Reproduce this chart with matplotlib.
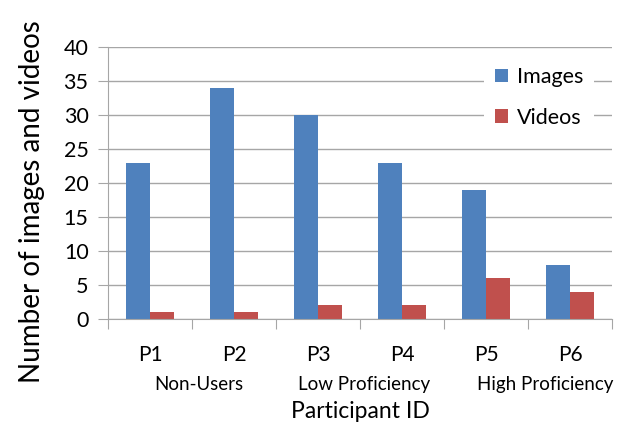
import numpy as np
import matplotlib.pyplot as plt

participants = ["P1", "P2", "P3", "P4", "P5", "P6"]
images = [23, 34, 30, 23, 19, 8]
videos = [1, 1, 2, 2, 6, 4]
groups = ["Non-Users", "Low Proficiency", "High Proficiency"]

plt.rcParams["font.family"] = ["Lato", "DejaVu Sans"]

BLUE = "#4F81BD"
RED = "#C0504D"
GRID = "#A6A6A6"

fig = plt.figure(figsize=(6.23, 4.28), dpi=100)
ax = fig.add_axes([108 / 623, 1 - 319 / 428, 504 / 623, 272 / 428])

x = np.arange(len(participants))
w = 0.286
ax.bar(x - w / 2, images, w, color=BLUE, label="Images", zorder=3)
ax.bar(x + w / 2, videos, w, color=RED, label="Videos", zorder=3)

ax.set_xlim(-0.5, len(participants) - 0.5)
ax.set_ylim(0, 40)
ax.set_yticks(range(0, 41, 5))
ax.yaxis.grid(True, color=GRID, lw=1.0, zorder=0)
ax.tick_params(axis="y", length=7, color=GRID, labelsize=15.5, pad=7)

# category boundaries as ticks on the x axis
ax.set_xticks(np.arange(-0.5, len(participants), 1.0))
ax.set_xticklabels([])
ax.tick_params(axis="x", length=7, color=GRID)
for i, p in enumerate(participants):
    ax.text(i, -5.3, p, ha="center", va="center", fontsize=15)

group_pos = [0.58, 2.55, 4.71]
for gx, g in zip(group_pos, groups):
    ax.text(gx, -9.6, g, ha="center", va="center", fontsize=13.5)

ax.text(2.5, -13.6, "Participant ID", ha="center", va="center", fontsize=16.5)
ax.set_ylabel("Number of images and videos", fontsize=20)
ax.yaxis.set_label_coords(-0.125, 0.43)

for s in ["top", "right"]:
    ax.spines[s].set_visible(False)
for s in ["left", "bottom"]:
    ax.spines[s].set_color(GRID)
    ax.spines[s].set_zorder(4)

leg = ax.legend(loc="upper right", bbox_to_anchor=(0.985, 1.005), frameon=True,
                fontsize=15.5, handlelength=0.6, handleheight=0.6,
                handletextpad=0.4, labelspacing=0.95, borderpad=0.5)
leg.get_frame().set_edgecolor("none")
leg.get_frame().set_facecolor("white")
leg.get_frame().set_alpha(1)

fig.savefig("out.png", dpi=100)
